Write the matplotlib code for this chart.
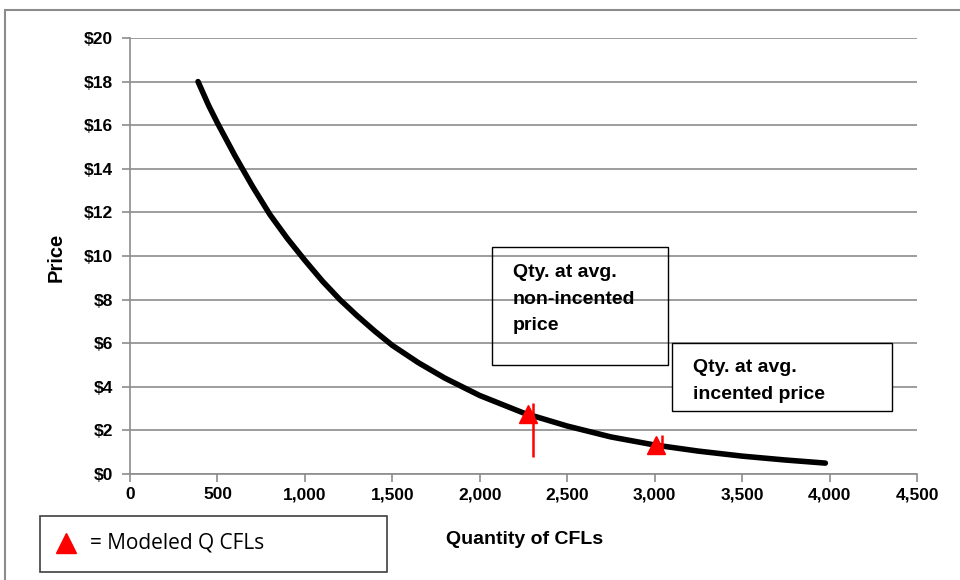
import matplotlib
matplotlib.use("Agg")
import matplotlib.pyplot as plt
from matplotlib.patches import Rectangle
from matplotlib.ticker import FuncFormatter, MultipleLocator

# Demand curve
qty = [389, 450, 500, 600, 700, 800, 900, 1000, 1100, 1200, 1300, 1400, 1500, 1650, 1800,
       2000, 2250, 2500, 2750, 3000, 3250, 3500, 3750, 3976]
price = [18.0, 16.9, 16.1, 14.6, 13.2, 11.9, 10.8, 9.8, 8.85, 8.0, 7.25, 6.55, 5.9, 5.1, 4.4,
         3.6, 2.8, 2.2, 1.7, 1.33, 1.05, 0.82, 0.64, 0.5]

# Modeled points
model_q = [2276, 3007]
model_p = [2.75, 1.35]
# Red vertical lines
line_q = [2304, 3042]
line_lo = [0.78, 1.1]
line_hi = [3.26, 1.79]

bold = ['Liberation Sans', 'DejaVu Sans']

fig = plt.figure(figsize=(9.6, 5.8), dpi=100)
ax = fig.add_axes([130/960, 1-474/580, 787/960, 436/580])

ax.plot(qty, price, color='black', lw=4, solid_capstyle='round', solid_joinstyle='round', zorder=3)
ax.vlines(line_q, line_lo, line_hi, color='red', lw=1.8, zorder=4)
ax.plot(model_q, model_p, linestyle='none', marker='^', color='red', markersize=13, zorder=5)

ax.set_xlim(0, 4500)
ax.set_ylim(0, 20)
ax.xaxis.set_major_locator(MultipleLocator(500))
ax.yaxis.set_major_locator(MultipleLocator(2))
ax.xaxis.set_major_formatter(FuncFormatter(lambda v, p: f"{int(v):,}"))
ax.yaxis.set_major_formatter(FuncFormatter(lambda v, p: f"${int(v)}"))
ax.grid(axis='y', color='#8c8c8c', lw=1.2)
ax.set_axisbelow(True)
for s in ['top', 'right']:
    ax.spines[s].set_visible(False)
for s in ['left', 'bottom']:
    ax.spines[s].set_color('#8c8c8c')
    ax.spines[s].set_linewidth(1.2)
ax.tick_params(axis='both', colors='#8c8c8c', length=6, width=1.2, labelcolor='black')
ax.tick_params(axis='y', pad=6)
for lab in ax.get_xticklabels() + ax.get_yticklabels():
    lab.set_family(bold)
    lab.set_fontweight('bold')
    lab.set_fontsize(12.5)

ax.set_xlabel('Quantity of CFLs', family=bold, fontweight='bold', fontsize=14)
ax.set_ylabel('Price', family=bold, fontweight='bold', fontsize=14.5)
ax.xaxis.set_label_coords((525-130)/787, (474-531)/436)
ax.yaxis.set_label_coords((66-130)/787, (474-257)/436)

# Annotation boxes
fig.add_artist(Rectangle((492/960, 1-365/580), 176/960, 118/580, transform=fig.transFigure,
                         facecolor='none', edgecolor='black', lw=1, zorder=2))
fig.text(513/960, 1-264/580, 'Qty. at avg.\nnon-incented\nprice', family=bold, fontweight='bold',
         fontsize=14, va='top', ha='left', linespacing=1.75, zorder=6)
fig.add_artist(Rectangle((672/960, 1-411/580), 220/960, 68/580, transform=fig.transFigure,
                         facecolor='white', edgecolor='black', lw=1, zorder=2))
fig.text(693/960, 1-359/580, 'Qty. at avg.\nincented price', family=bold, fontweight='bold',
         fontsize=14, va='top', ha='left', linespacing=1.75, zorder=6)

# Legend box
fig.add_artist(Rectangle((40/960, 1-572/580), 347/960, 56/580, transform=fig.transFigure,
                         facecolor='white', edgecolor='#404040', lw=1.2))
fig.add_artist(plt.Line2D([66/960], [1-543/580], transform=fig.transFigure, marker='^',
                          color='red', markersize=14, linestyle='none'))
fig.text(90/960, 1-543/580, '= Modeled Q CFLs', family=['Open Sans', 'DejaVu Sans'], fontsize=15,
         va='center', ha='left')

# Outer border
fig.add_artist(Rectangle((5/960, -0.1), 2, 1.1 - 10/580, transform=fig.transFigure,
                         facecolor='none', edgecolor='#8c8c8c', lw=1.5))

fig.savefig('out.png', dpi=100)
